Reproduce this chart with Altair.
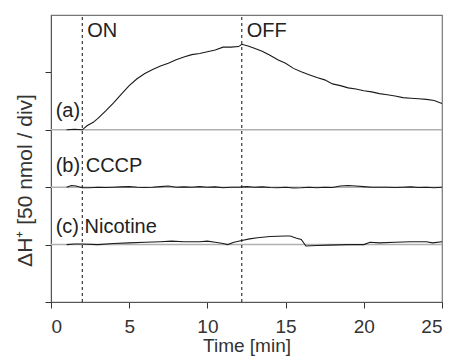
import altair as alt
import pandas as pd

# trace (a): light on/off
t_a = [1.0, 1.5, 2.0, 2.3, 2.7, 3.0, 3.5, 4.0, 4.5, 5.0, 5.5, 6.0, 6.5, 7.0, 7.5, 8.0, 8.5, 9.0, 9.5,
       10.0, 10.5, 11.0, 11.5, 12.0, 12.2, 12.6, 13.0, 13.5, 14.0, 14.5, 15.0, 15.5, 16.0, 16.5, 17.0,
       17.5, 18.0, 18.5, 19.0, 19.5, 20.0, 20.5, 21.0, 21.5, 22.0, 22.5, 23.0, 23.5, 24.0, 24.5, 25.0]
v_a = [3.0, 3.01, 3.0, 3.07, 3.13, 3.2, 3.33, 3.47, 3.62, 3.77, 3.89, 3.98, 4.05, 4.11, 4.16, 4.22,
       4.27, 4.31, 4.33, 4.36, 4.39, 4.44, 4.44, 4.45, 4.49, 4.46, 4.42, 4.37, 4.30, 4.22, 4.16, 4.07,
       4.01, 3.96, 3.91, 3.87, 3.80, 3.77, 3.73, 3.71, 3.68, 3.66, 3.63, 3.61, 3.59, 3.56, 3.55, 3.54,
       3.53, 3.51, 3.46]

# trace (b): CCCP
t_b = [1.0, 1.3, 1.6, 2.0, 2.5, 3.0, 3.5, 4.0, 4.5, 5.0, 5.5, 6.0, 6.5, 7.0, 7.5, 8.0, 8.5, 9.0, 9.5,
       10.0, 10.5, 11.0, 11.5, 12.0, 12.5, 13.0, 13.5, 14.0, 14.5, 15.0, 15.5, 16.0, 16.5, 17.0, 17.5,
       18.0, 18.5, 19.0, 19.5, 20.0, 20.5, 21.0, 21.5, 22.0, 22.5, 23.0, 23.5, 24.0, 24.5, 25.0]
v_b = [2.0, 2.03, 2.02, 1.99, 1.99, 2.0, 1.995, 2.0, 2.005, 2.01, 2.0, 1.995, 2.0, 2.01, 2.02, 2.0,
       2.005, 2.0, 2.01, 2.0, 2.005, 1.99, 2.0, 2.0, 2.01, 2.0, 2.005, 1.995, 1.99, 2.0, 1.985, 1.99,
       2.0, 1.99, 2.0, 1.995, 2.02, 2.03, 2.02, 2.01, 2.0, 2.0, 2.0, 1.995, 2.0, 2.005, 1.995, 2.0,
       1.99, 2.0]

# trace (c): Nicotine
t_c = [1.0, 1.5, 2.0, 3.0, 4.0, 5.0, 6.0, 7.0, 7.7, 8.5, 9.5, 10.0, 10.5, 11.0, 11.3, 11.7, 12.2,
       12.7, 13.2, 14.0, 15.0, 15.3, 15.7, 16.0, 16.3, 17.0, 17.8, 19.0, 20.0, 20.4, 21.0, 22.0, 23.0,
       24.0, 24.4, 25.0]
v_c = [1.0, 1.01, 1.01, 1.0, 1.02, 1.03, 1.04, 1.05, 1.06, 1.05, 1.05, 1.06, 1.04, 1.02, 1.0, 1.04,
       1.07, 1.1, 1.12, 1.14, 1.15, 1.15, 1.11, 1.09, 0.975, 0.985, 0.99, 1.0, 1.0, 1.04, 1.03, 1.04,
       1.05, 1.05, 1.03, 1.05]

baselines = [1, 2, 3]
event_times = [2.0, 12.2]
event_labels = ["ON", "OFF"]
trace_labels = ["(a)", "(b) CCCP", "(c) Nicotine"]
trace_label_levels = [3.22, 2.27, 1.21]

traces = pd.concat([
    pd.DataFrame({"t": t_a, "v": v_a, "trace": "a"}),
    pd.DataFrame({"t": t_b, "v": v_b, "trace": "b"}),
    pd.DataFrame({"t": t_c, "v": v_c, "trace": "c"}),
])

FONT = "Liberation Sans"
xs = alt.Scale(domain=[0, 25], nice=False, zero=False)
ys = alt.Scale(domain=[0, 5], nice=False, zero=False)

base_df = pd.DataFrame({"y": baselines, "x0": [0] * 3, "x1": [25] * 3})
base = alt.Chart(base_df).mark_rule(color="#b0b0b0", strokeWidth=1.5).encode(
    x=alt.X("x0:Q", scale=xs), x2="x1:Q", y=alt.Y("y:Q", scale=ys)
)

lines = alt.Chart(traces).mark_line(color="#1a1a1a", strokeWidth=1.1).encode(
    x=alt.X("t:Q", scale=xs,
            axis=alt.Axis(title="Time [min]", values=[0, 5, 10, 15, 20, 25], grid=False,
                          tickSize=6, labelFontSize=19, titleFontSize=19, labelColor="#333",
                          titleColor="#333", domainColor="#555", tickColor="#333",
                          labelFont=FONT, titleFont=FONT, labelPadding=9, titlePadding=0,
                          titleFontWeight="normal")),
    y=alt.Y("v:Q", scale=ys,
            axis=alt.Axis(title="ΔH⁺ [50 nmol / div]", values=[0, 1, 2, 3, 4], labels=False,
                          grid=False, tickSize=6, titleFontSize=21, titleColor="#333",
                          domainColor="#555", tickColor="#333", titleFont=FONT,
                          titleFontWeight="normal", titleX=-20, titleY=165,
                          titleBaseline="alphabetic")),
    detail="trace:N",
)

ev_df = pd.DataFrame({"t": event_times, "lab": event_labels, "y0": [0, 0], "y1": [5, 5],
                      "ly": [4.62, 4.62]})
ev = alt.Chart(ev_df).mark_rule(color="#111", strokeDash=[3, 3], strokeWidth=1).encode(
    x=alt.X("t:Q", scale=xs), y=alt.Y("y0:Q", scale=ys), y2="y1:Q"
)
ev_txt = alt.Chart(ev_df).mark_text(align="left", baseline="alphabetic", dx=5, fontSize=20,
                                    font=FONT, color="#222").encode(
    x=alt.X("t:Q", scale=xs), y=alt.Y("ly:Q", scale=ys), text="lab:N"
)

lab_df = pd.DataFrame({"lab": trace_labels, "y": trace_label_levels, "x": [0.3] * 3})
lab_txt = alt.Chart(lab_df).mark_text(align="left", baseline="alphabetic", fontSize=20,
                                      font=FONT, color="#222").encode(
    x=alt.X("x:Q", scale=xs), y=alt.Y("y:Q", scale=ys), text="lab:N"
)

chart = alt.layer(base, lines, ev, ev_txt, lab_txt).properties(
    width=391, height=287,
    autosize=alt.AutoSizeParams(type="none"),
    padding={"left": 51, "top": 15, "right": 12, "bottom": 58},
).configure_view(stroke="#777", strokeWidth=1.2)

chart.save("out.html", embed_options={"renderer": "svg", "actions": False})
